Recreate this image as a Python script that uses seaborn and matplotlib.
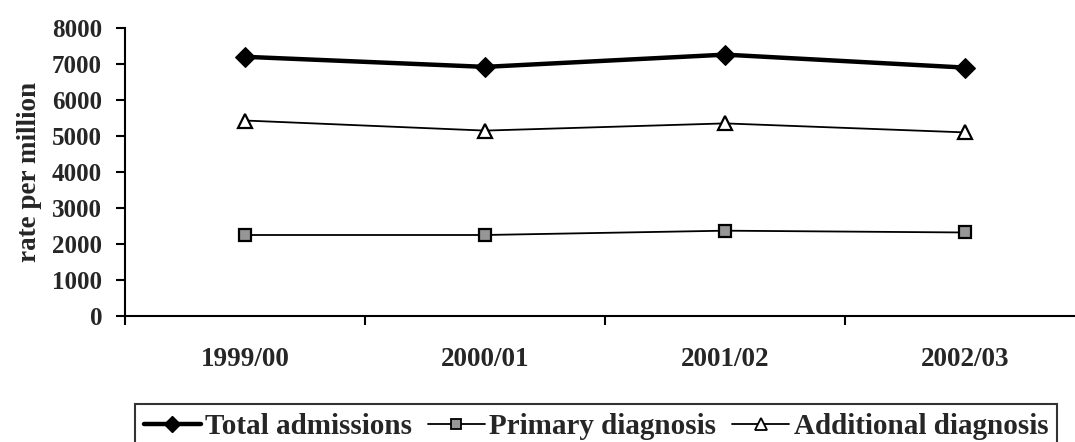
import matplotlib
matplotlib.use("Agg")
import matplotlib.pyplot as plt
import seaborn as sns
import pandas as pd
from matplotlib.lines import Line2D

years = ["1999/00", "2000/01", "2001/02", "2002/03"]
total_admissions = [7200, 6920, 7260, 6900]
primary_diagnosis = [2250, 2250, 2370, 2320]
additional_diagnosis = [5430, 5150, 5350, 5100]
y_ticks = [0, 1000, 2000, 3000, 4000, 5000, 6000, 7000, 8000]
series_labels = ["Total admissions", "Primary diagnosis", "Additional diagnosis"]

sns.set_style("white")
plt.rcParams["font.family"] = ["Liberation Serif", "DejaVu Serif"]
plt.rcParams["font.weight"] = "bold"

FS_TICK = 18
FS_XT = 19.5
FS_LAB = 19.5
FS_LEG = 21
fig = plt.figure(figsize=(10.75, 4.42), dpi=100)
ax = fig.add_axes([125 / 1075, 1 - 316 / 442, 960 / 1075, 288 / 442])

idx = list(range(len(years)))
df = pd.DataFrame({"x": idx, "total": total_admissions,
                   "primary": primary_diagnosis, "additional": additional_diagnosis})

sns.lineplot(data=df, x="x", y="total", ax=ax, color="black", lw=3.2,
             marker="D", markersize=10, markerfacecolor="black",
             markeredgecolor="black", legend=False)
sns.lineplot(data=df, x="x", y="primary", ax=ax, color="black", lw=1.3,
             marker="s", markersize=9, markerfacecolor="#969696",
             markeredgecolor="black", markeredgewidth=1.6, legend=False)
sns.lineplot(data=df, x="x", y="additional", ax=ax, color="black", lw=1.3,
             marker="^", markersize=10, markerfacecolor="white",
             markeredgecolor="black", markeredgewidth=1.6, legend=False)

ax.set_xlim(-0.5, 3.5)
ax.set_ylim(0, 8000)
ax.set_yticks(y_ticks)
ax.set_yticklabels([str(v) for v in y_ticks], fontsize=FS_TICK, fontweight="bold")
ax.set_xticks(idx)
ax.set_xticklabels(years, fontsize=FS_XT, fontweight="bold")
ax.set_xticks([-0.5, 0.5, 1.5, 2.5, 3.5], minor=True)
ax.tick_params(axis="x", which="major", length=0, pad=22)
ax.tick_params(axis="x", which="minor", length=6.5, width=1.5, color="black",
               direction="out", bottom=True)
ax.tick_params(axis="y", which="major", length=6.5, width=1.5, color="black",
               direction="out", left=True, pad=10)
ax.set_xlabel("")
ax.set_ylabel("rate per million", fontsize=FS_LAB, fontweight="bold", labelpad=7)

for s in ["top", "right"]:
    ax.spines[s].set_visible(False)
for s in ["left", "bottom"]:
    ax.spines[s].set_color("black")
    ax.spines[s].set_linewidth(1.5)

handles = [
    Line2D([], [], color="black", lw=3.2, marker="D", markersize=8,
           markerfacecolor="black", markeredgecolor="black"),
    Line2D([], [], color="black", lw=1.3, marker="s", markersize=7,
           markerfacecolor="#969696", markeredgecolor="black", markeredgewidth=1.3),
    Line2D([], [], color="black", lw=1.3, marker="^", markersize=8,
           markerfacecolor="white", markeredgecolor="black", markeredgewidth=1.3),
]
leg = fig.legend(handles, series_labels, loc="upper left",
                 bbox_to_anchor=(135 / 1075, 1 - 404 / 442), ncol=3,
                 frameon=True, fancybox=False, edgecolor="black",
                 prop={"size": FS_LEG, "weight": "bold"},
                 handlelength=1.95, handletextpad=0.15, columnspacing=0.55,
                 borderpad=0.3, borderaxespad=0)
leg.get_frame().set_linewidth(1.5)

fig.savefig("out.png", dpi=100)
